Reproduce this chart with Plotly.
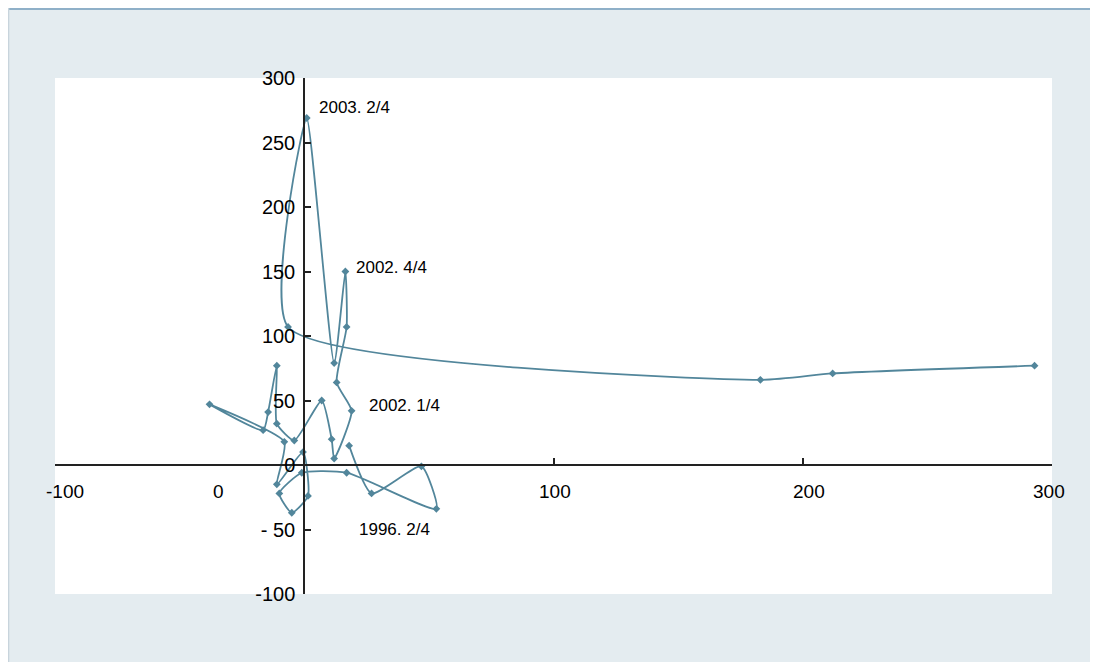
import plotly.graph_objects as go

# quarterly path (x, y)
xs = [18, 27, 47, 53, 17, -1, -10, -5, 1.5, -0.5, -11, -8, -38, -16.5, -14.5, -11, -11, -4,
      7, 11, 12, 19, 13, 17, 16.5, 12, 1, -6.5, 183, 212, 293]
ys = [15, -22, -1, -34, -6, -6, -22, -37, -24, 10, -15, 18, 47, 27, 41, 77, 32, 19,
      50, 20, 5, 42, 64, 107, 150, 79, 269, 107, 66, 71, 77]

point_labels = ['2003. 2/4', '2002. 4/4', '2002. 1/4', '1996. 2/4', '2004. 3/4']
label_x = [5, 20, 25, 21, 303]
label_y = [277, 153, 46, -50, 96]
label_anchor = ['left', 'left', 'left', 'left', 'right']

xtick_text = ['-100', '0', '100', '200', '300']
xtick_pos = [-96, -34.5, 100.8, 202.4, 298.8]

ytick_vals = [-100, -50, 0, 50, 100, 150, 200, 250, 300]
ytick_text = ['-100', '- 50', '0', '50', '100', '150', '200', '250', '300']

linecolor = '#52869b'

fig = go.Figure()
fig.add_trace(go.Scatter(x=xs, y=ys,
                         mode='lines+markers',
                         line={'color': linecolor, 'width': 1.8,
                               'shape': 'spline', 'smoothing': 0.55},
                         marker={'color': linecolor, 'size': 6, 'symbol': 'diamond'},
                         showlegend=False,
                         cliponaxis=False))

for t, x, y, a in zip(point_labels, label_x, label_y, label_anchor):
    fig.add_annotation(text=t, x=x, y=y, xref='x', yref='y', showarrow=False,
                       xanchor=a, yanchor='middle',
                       font={'size': 17, 'color': 'black'})

for t, x in zip(xtick_text, xtick_pos):
    fig.add_annotation(text=t, x=x, y=-20.3, xref='x', yref='y', showarrow=False,
                       xanchor='center', yanchor='middle',
                       font={'size': 19, 'color': 'black'})

# top and left border of the frame
fig.add_shape(type='line', xref='paper', yref='paper',
              x0=-0.05, x1=1.05, y0=1.1337, y1=1.1337,
              line={'color': '#8fb0c8', 'width': 2})
fig.add_shape(type='line', xref='paper', yref='paper',
              x0=-0.0466, x1=-0.0466, y0=-0.2, y1=1.14,
              line={'color': '#c8d4dc', 'width': 1.5})

fig.update_layout(
    width=1082, height=654,
    paper_bgcolor='#e4ecf0',
    plot_bgcolor='white',
    margin={'l': 47, 'r': 38, 't': 70, 'b': 68},
    font={'family': 'Liberation Sans, Arial', 'color': 'black'},
    xaxis={'range': [-100, 300], 'dtick': 100, 'anchor': 'free', 'position': 0.25,
           'showgrid': False, 'zeroline': False, 'showline': True,
           'linecolor': '#222', 'linewidth': 2, 'ticks': 'inside', 'ticklen': 6,
           'tickwidth': 2, 'tickcolor': '#222', 'showticklabels': False},
    yaxis={'range': [-100, 300], 'tickvals': ytick_vals, 'ticktext': ytick_text,
           'anchor': 'free', 'position': 0.25,
           'showgrid': False, 'zeroline': False, 'showline': True,
           'linecolor': '#222', 'linewidth': 2, 'ticks': 'inside', 'ticklen': 6,
           'tickwidth': 2, 'tickcolor': '#222', 'tickfont': {'size': 20},
           'ticklabelstandoff': 4},
)

fig.write_html('out.html')
